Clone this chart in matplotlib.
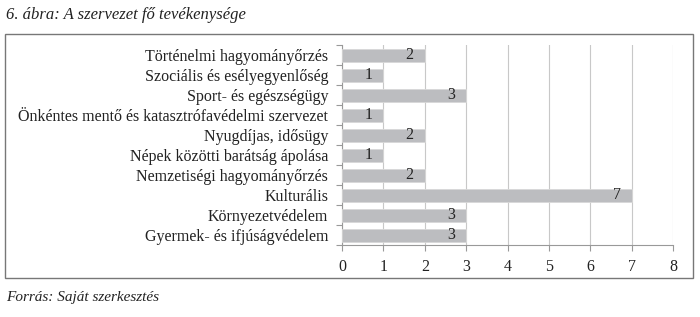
import matplotlib.pyplot as plt
from matplotlib.patches import Rectangle

categories = ["Történelmi hagyományőrzés", "Szociális és esélyegyenlőség",
              "Sport- és egészségügy", "Önkéntes mentő és katasztrófavédelmi szervezet",
              "Nyugdíjas, idősügy", "Népek közötti barátság ápolása",
              "Nemzetiségi hagyományőrzés", "Kulturális", "Környezetvédelem",
              "Gyermek- és ifjúságvédelem"]
values = [2, 1, 3, 1, 2, 1, 2, 7, 3, 3]
xticks = [0, 1, 2, 3, 4, 5, 6, 7, 8]

plt.rcParams['font.family'] = ['Liberation Serif', 'DejaVu Serif']

fig = plt.figure(figsize=(7, 3.17), dpi=100)
ax = fig.add_axes([342/700, 1 - 245/317, 331/700, 200/317])

pos = list(range(len(categories)))
ax.barh(pos, values, height=0.65, color='#bcbdc0', edgecolor='#d8d8d8', linewidth=0.6, zorder=3)
for p, v in zip(pos, values):
    ax.annotate(str(v), (v, p), xytext=(-8, 0), textcoords='offset points',
                ha='right', va='center', fontsize=11.5, color='#222222', zorder=4)

ax.set_ylim(len(categories) - 0.5, -0.5)
ax.set_xlim(0, 8)
ax.set_xticks(xticks)
ax.set_yticks(pos)
ax.set_yticklabels(categories, fontsize=11.5, color='#222222')
ax.set_yticks([p - 0.5 for p in pos] + [len(pos) - 0.5], minor=True)
ax.tick_params(axis='y', which='major', length=0, pad=10)
ax.tick_params(axis='y', which='minor', length=4, color='#999999', width=0.8)
ax.tick_params(axis='x', length=4, color='#999999', labelsize=11.5, labelcolor='#222222', pad=6)
ax.grid(axis='x', color='#c8c8c8', linewidth=0.8, zorder=0)
for s in ['top', 'right']:
    ax.spines[s].set_visible(False)
for s in ['left', 'bottom']:
    ax.spines[s].set_color('#999999')
    ax.spines[s].set_linewidth(0.8)

fig.patches.append(Rectangle((5/700, 1 - 278/317), 688/700, 244/317, transform=fig.transFigure,
                             fill=False, edgecolor='#777777', linewidth=1.0))
fig.text(6/700, 1 - 15/317, "6. ábra: A szervezet fő tevékenysége", style='italic',
         fontsize=12, va='center', ha='left', color='#222222')
fig.text(6/700, 1 - 297/317, "Forrás: Saját szerkesztés", style='italic',
         fontsize=11, va='center', ha='left', color='#222222')

fig.savefig('out.png', dpi=100)
